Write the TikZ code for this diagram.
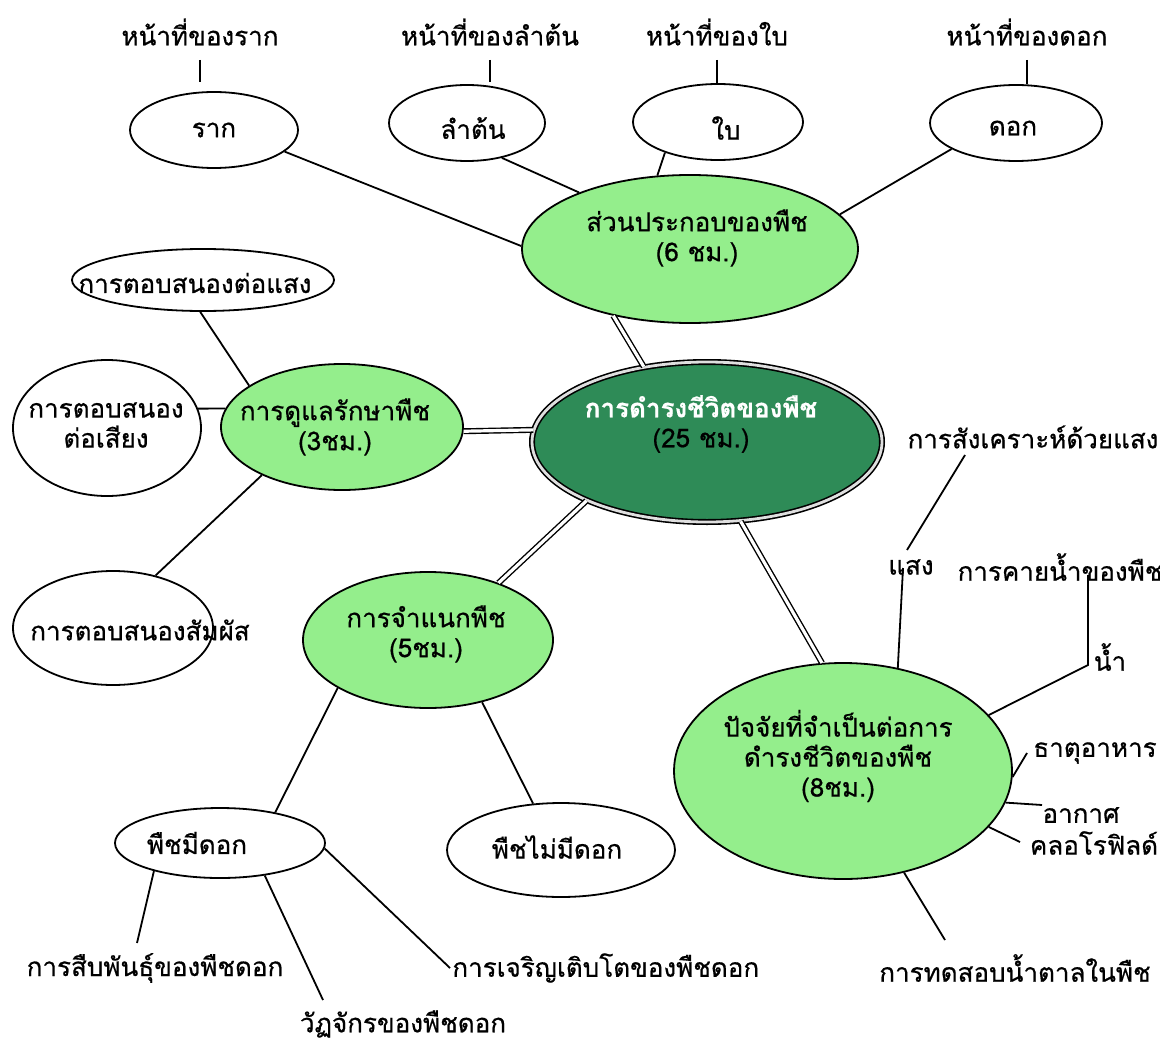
\documentclass[tikz,border=0pt]{standalone}
\usepackage{fontspec}
\newfontfamily\thaifont[Script=Thai, FakeBold=0.6]{Loma}
\usetikzlibrary{shapes.geometric}
\definecolor{leafgreen}{RGB}{148,238,140}
\definecolor{deepgreen}{RGB}{46,139,87}
\begin{document}
\begin{tikzpicture}[x=0.5pt,y=-0.5pt,
  txt/.style={font=\thaifont\fontsize{13}{15}\selectfont, inner sep=1pt, align=center},
  oval/.style={ellipse, draw=black, line width=0.9pt, inner sep=0pt},
  topic/.style={oval, fill=leafgreen},
  rad/.style 2 args={minimum width=#1pt, minimum height=#2pt},
  link/.style={line width=0.9pt},
  dbl/.style={draw=black, line width=0.7pt, double=white, double distance=1.6pt},
]
\fill[white] (0,0) rectangle (1160,1043);
\useasboundingbox (0,0) rectangle (1160,1043);

% ---- ellipses ----
\node[oval, rad={84}{38}] (raak) at (214,130) {};
\node[oval, rad={78}{38}] (stem) at (467,123) {};
\node[oval, rad={85}{38}] (leaf) at (718,122) {};
\node[oval, rad={86}{38}] (flowerpart) at (1016,123) {};
\node[topic, rad={168}{74}] (parts) at (690,249) {};
\node[ellipse, draw=black, line width=0.8pt, double=gray!25, double distance=1.4pt,
      fill=deepgreen, rad={175}{80}] (main) at (707,442) {};
\node[topic, rad={121}{63}] (care) at (342,427) {};
\node[oval, rad={131}{31}] (respLight) at (203,280) {};
\node[oval, rad={94}{68}] (respSound) at (107,428) {};
\node[oval, rad={100}{57}] (respTouch) at (113,628) {};
\node[topic, rad={125}{68}] (classify) at (428,640) {};
\node[oval, rad={105}{35}] (flowering) at (220,843) {};
\node[oval, rad={114}{47}] (nonflowering) at (561,850) {};
\node[topic, rad={169}{108}] (factors) at (843,771) {};

% ---- texts ----
\node[txt] (fnraak) at (200,32) {หน้าที่ของราก};
\node[txt] (fnstem) at (490,32) {หน้าที่ของลำต้น};
\node[txt] (fnleaf) at (717,32) {หน้าที่ของใบ};
\node[txt] (fnflower) at (1027,32) {หน้าที่ของดอก};
\node[txt] (raakT) at (214,130) {ราก};
\node[txt] (stemT) at (473,128) {ลำต้น};
\node[txt] (leafT) at (726,128) {ใบ};
\node[txt] (flowerpartT) at (1013,128) {ดอก};
\node[txt] (partsT) at (697,238) {ส่วนประกอบของพืช\\(6 ชม.)};
\node[txt] (mainT) at (701,424) {\textcolor{white}{\bfseries การดำรงชีวิตของพืช}\\(25 ชม.)};
\node[txt] (careT) at (335,427) {การดูแลรักษาพืช\\(3ชม.)};
\node[txt] (respLightT) at (195,283) {การตอบสนองต่อแสง};
\node[txt] (respSoundT) at (106,425) {การตอบสนอง\\ต่อเสียง};
\node[txt] (respTouchT) at (140,630) {การตอบสนองสัมผัส};
\node[txt] (classifyT) at (426,634) {การจำแนกพืช\\(5ชม.)};
\node[txt] (floweringT) at (197,843) {พืชมีดอก};
\node[txt] (nonfloweringT) at (557,847) {พืชไม่มีดอก};
\node[txt] (factorsT) at (838,756) {ปัจจัยที่จำเป็นต่อการ\\ดำรงชีวิตของพืช\\(8ชม.)};
\node[txt] (photo) at (1033,437) {การสังเคราะห์ด้วยแสง};
\node[txt] (light) at (911,567) {แสง};
\node[txt] (transp) at (1060,567) {การคายน้ำของพืช};
\node[txt] (water) at (1110,657) {น้ำ};
\node[txt] (nutr) at (1095,753) {ธาตุอาหาร};
\node[txt] (air) at (1081,815) {อากาศ};
\node[txt] (chlor) at (1094,843) {คลอโรฟิลด์};
\node[txt] (sugar) at (1015,968) {การทดสอบน้ำตาลในพืช};
\node[txt] (repro) at (155,968) {การสืบพันธุ์ของพืชดอก};
\node[txt] (cycle) at (403,1024) {วัฏจักรของพืชดอก};
\node[txt, anchor=west] (growth) at (450,968) {การเจริญเติบโตของพืชดอก};

% ---- free ends of connectors ----
\coordinate (photoTip) at (965,455);
\coordinate (lightTop) at (907,550);
\coordinate (lightLow) at (903,568);
\coordinate (waterTop) at (1088,575);
\coordinate (waterBend) at (1088,665);
\coordinate (nutrTip) at (1027,753);
\coordinate (airTip) at (1042,805);
\coordinate (chlorTip) at (1020,842);
\coordinate (sugarTip) at (945,940);
\coordinate (reproTip) at (137,943);
\coordinate (cycleTip) at (323,1000);

% ---- ticks under the top headings ----
\draw[link, shorten <=14pt, shorten >=4.5pt] (fnraak.center) -- (fnraak.center |- raak.north);
\draw[link, shorten <=14pt, shorten >=1pt] (fnstem.center) -- (fnstem.center |- stem.north);
\draw[link, shorten <=14pt] (fnleaf.center) -- (fnleaf.center |- leaf.north);
\draw[link, shorten <=14pt] (fnflower.center) -- (fnflower.center |- flowerpart.north);

% ---- plant parts ----
\draw[link] (raak.-17) -- (parts.179);
\draw[link] (stem.-45) -- (parts.153.6);
\draw[link] (leaf.210.5) -- (parts.114);
\draw[link] (flowerpart.202.9) -- (parts.13.9);

% ---- double links to the centre ----
\draw[dbl] (parts.221.4) -- (main.130.5);
\draw[dbl] (care.-2.4) -- (main.176.7);
\draw[dbl] (classify.39.8) -- (main.206.4);
\draw[dbl] (main.-67.8) -- (factors.101);

% ---- care branch ----
\draw[link] (respLight.265) -- (care.156.3);
\draw[link] (respSound.12.1) -- (care.171.1);
\draw[link] (respTouch.51.8) -- (care.211.9);

% ---- classification branch ----
\draw[link] (classify.208.8) -- (flowering.29.4);
\draw[link] (classify.-49.3) -- (nonflowering.121.7);
\draw[link] (flowering.203.2) -- (reproTip);
\draw[link] (flowering.-36.7) -- (cycleTip);
\draw[link] (flowering.-3.8) -- (growth.west);

% ---- factors branch ----
\draw[link] (photoTip) -- (lightTop);
\draw[link] (lightLow) -- (factors.62.8);
\draw[link] (waterTop) -- (waterBend) -- (factors.21.3);
\draw[link] (factors.-2.7) -- (nutrTip);
\draw[link] (factors.-11.7) -- (airTip);
\draw[link] (factors.-21.3) -- (chlorTip);
\draw[link] (factors.-59.2) -- (sugarTip);
\end{tikzpicture}
\end{document}
